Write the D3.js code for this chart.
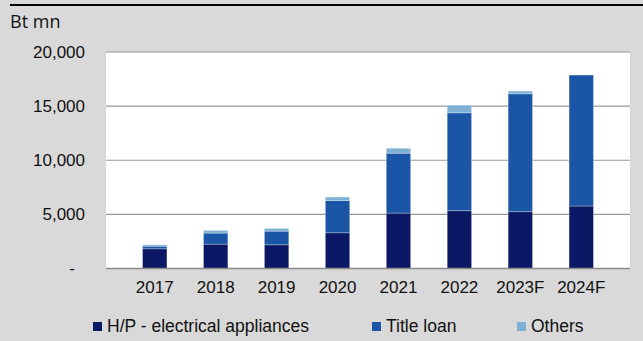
<!DOCTYPE html>
<html>
<head>
<meta charset="utf-8">
<script src="https://cdn.jsdelivr.net/npm/d3@7"></script>
<style>
  html, body { margin: 0; padding: 0; background: #d9d9d9; }
  text { font-family: "Liberation Sans", Arial, sans-serif; fill: #111; }
</style>
</head>
<body>
<div class="chart"></div>
<script>
const years = ['2017', '2018', '2019', '2020', '2021', '2022', '2023F', '2024F'];
const hpElectrical = [1820, 2250, 2190, 3300, 5120, 5340, 5250, 5770];
const titleLoan = [240, 1020, 1260, 2970, 5530, 9040, 10890, 12100];
const others = [130, 250, 250, 330, 460, 710, 250, 0];
const yTicks = [0, 5000, 10000, 15000, 20000];

const seriesNames = ['H/P - electrical appliances', 'Title loan', 'Others'];
const colors = ['#0b1866', '#1a56a5', '#7fb0d6'];

const width = 643, height = 341;
const margin = {top: 52, right: 13, bottom: 72.5, left: 106};
const innerW = width - margin.left - margin.right;
const innerH = height - margin.top - margin.bottom;

// build rows for the stack
const rows = years.map((y, i) => ({
    year: y,
    [seriesNames[0]]: hpElectrical[i],
    [seriesNames[1]]: titleLoan[i],
    [seriesNames[2]]: others[i]
}));
const stacked = d3.stack().keys(seriesNames)(rows);

const svg = d3.select('.chart').append('svg')
    .attr('width', width)
    .attr('height', height);

// black rule across the top
svg.append('rect')
    .attr('x', 10).attr('y', 4)
    .attr('width', width - 10).attr('height', 2)
    .attr('fill', '#000');

svg.append('text')
    .attr('x', 10).attr('y', 27.5)
    .style('font-family', '"Open Sans", "Noto Sans", sans-serif')
    .style('font-size', '18px')
    .text('Bt mn');

const g = svg.append('g')
    .attr('transform', 'translate(' + margin.left + ',' + margin.top + ')');

// white plot area
g.append('rect')
    .attr('width', innerW)
    .attr('height', innerH)
    .attr('fill', '#fff');

let x = d3.scaleBand()
    .domain(years)
    .range([0, innerW])
    .padding(0.6);
let y = d3.scaleLinear()
    .domain([0, 20000])
    .range([innerH, 0]);

// gridlines
g.selectAll('.grid')
    .data(yTicks.filter(d => d > 0))
    .enter().append('line')
    .attr('x1', 0).attr('x2', innerW)
    .attr('y1', d => y(d)).attr('y2', d => y(d))
    .attr('stroke', '#9a9a9a')
    .attr('stroke-width', 1.2);

// bars
g.selectAll('.series')
    .data(stacked)
    .enter().append('g')
    .attr('fill', (d, i) => colors[i])
    .selectAll('rect')
    .data(d => d)
    .enter().append('rect')
    .attr('x', d => x(d.data.year))
    .attr('y', d => y(d[1]))
    .attr('width', x.bandwidth())
    .attr('height', d => y(d[0]) - y(d[1]))
    .attr('stroke', 'rgba(255,255,255,0.35)')
    .attr('stroke-width', 0.8);

// baseline
g.append('line')
    .attr('x1', 0).attr('x2', innerW)
    .attr('y1', y(0)).attr('y2', y(0))
    .attr('stroke', '#8c8c8c')
    .attr('stroke-width', 1.5);

// y axis labels
const yAxis = g.append('g')
    .attr('transform', 'translate(-21,0)')
    .call(d3.axisLeft(y).tickValues(yTicks).tickSize(0)
        .tickFormat(d => d === 0 ? '-' : d3.format(',')(d)));
yAxis.select('.domain').remove();
yAxis.selectAll('text')
    .attr('x', 0)
    .style('font-size', '17px')
    .style('font-family', '"Liberation Sans", Arial, sans-serif')
    .attr('fill', '#111');
yAxis.selectAll('.tick').filter(d => d === 0).select('text')
    .attr('x', -10);

// x axis labels
const xAxis = g.append('g')
    .attr('transform', 'translate(0,' + innerH + ')')
    .call(d3.axisBottom(x).tickSize(0).tickPadding(12));
xAxis.select('.domain').remove();
xAxis.selectAll('text')
    .style('font-size', '17px')
    .style('font-family', '"Liberation Sans", Arial, sans-serif')
    .attr('fill', '#111');

// legend
const legendX = [93, 372, 517];
const legend = svg.selectAll('.legend')
    .data(seriesNames)
    .enter().append('g')
    .attr('transform', (d, i) => 'translate(' + legendX[i] + ',322)');
legend.append('rect')
    .attr('width', 9).attr('height', 9)
    .attr('fill', (d, i) => colors[i]);
legend.append('text')
    .attr('x', 14).attr('y', 9.5)
    .style('font-size', '17.5px')
    .text(d => d);
</script>
</body>
</html>
